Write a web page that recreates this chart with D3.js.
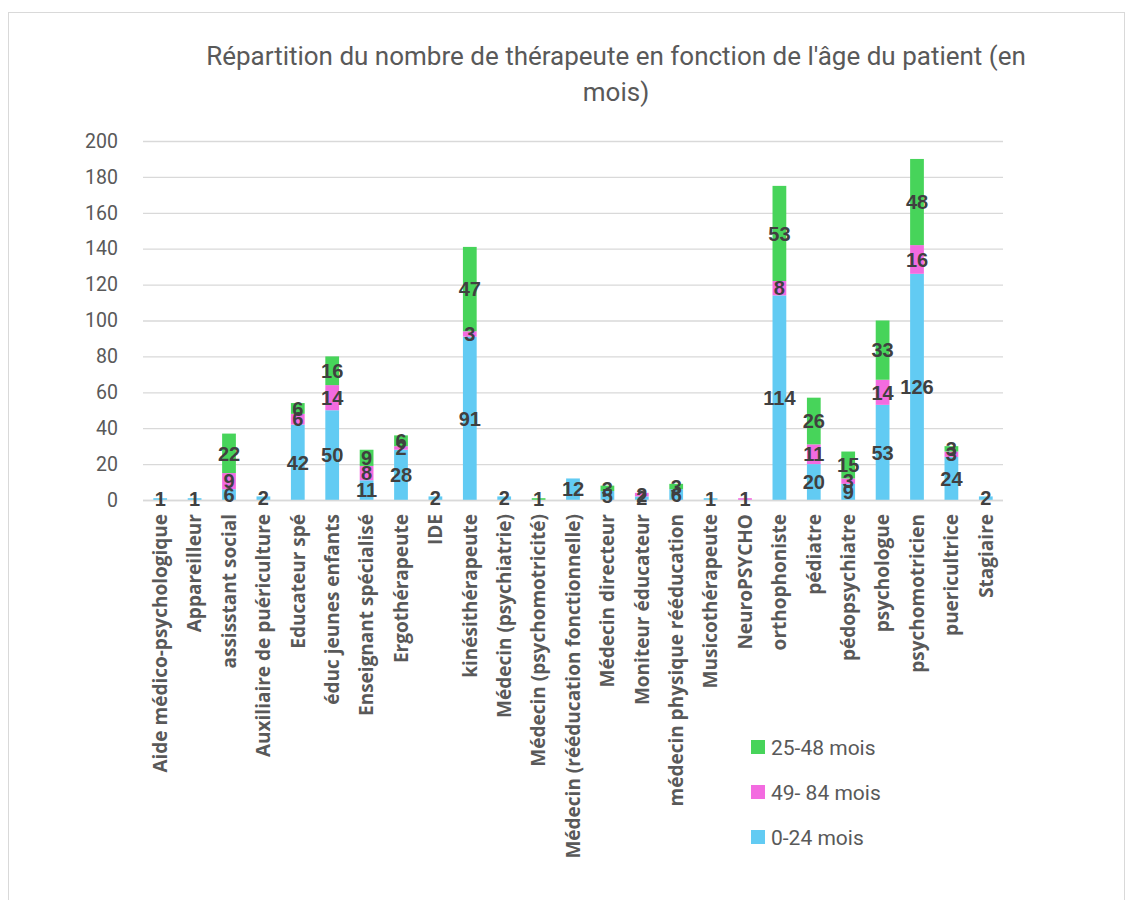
<!DOCTYPE html>
<html>
<head>
<meta charset="utf-8">
<script src="https://cdn.jsdelivr.net/npm/d3@7"></script>
<style>
  body { margin: 0; background: #fff; }
</style>
</head>
<body>
<div id="chart"></div>
<script>
var categories = ["Aide médico-psychologique", "Appareilleur", "assisstant social",
    "Auxiliaire de puériculture", "Educateur spé", "éduc jeunes enfants",
    "Enseignant spécialisé", "Ergothérapeute", "IDE", "kinésithérapeute",
    "Médecin (psychiatrie)", "Médecin (psychomotricité)", "Médecin (rééducation fonctionnelle)",
    "Médecin directeur", "Moniteur éducateur", "médecin physique rééducation",
    "Musicothérapeute", "NeuroPSYCHO", "orthophoniste", "pédiatre", "pédopsychiatre",
    "psychologue", "psychomotricien", "puericultrice", "Stagiaire"];

var seriesNames = ["0-24 mois", "49- 84 mois", "25-48 mois"];
var s0_24  = [1, 1, 6, 2, 42, 50, 11, 28, 2, 91, 2, 0, 12, 5, 2, 6, 1, 0, 114, 20, 9, 53, 126, 24, 2];
var s49_84 = [0, 0, 9, 0, 6, 14, 8, 2, 0, 3, 0, 0, 0, 0, 2, 0, 0, 1, 8, 11, 3, 14, 16, 3, 0];
var s25_48 = [0, 0, 22, 0, 6, 16, 9, 6, 0, 47, 0, 1, 0, 3, 0, 3, 0, 0, 53, 26, 15, 33, 48, 3, 0];
var yTicks = [0, 20, 40, 60, 80, 100, 120, 140, 160, 180, 200];

var colors = ["#62cbf3", "#f36be0", "#47d45a"];
var W = 1133, H = 900;
var margin = { top: 141, left: 143, right: 130, bottom: 400 },
    width = W - margin.left - margin.right,
    height = H - margin.top - margin.bottom;

var svg = d3.select("#chart").append("svg")
    .attr("width", W).attr("height", H)
    .style("font-family", "Roboto, sans-serif");

// chart frame
svg.append("rect")
    .attr("x", 8.5).attr("y", 12.5)
    .attr("width", 1116).attr("height", 900)
    .attr("fill", "none").attr("stroke", "#d9d9d9");

// title
var title = ["Répartition du nombre de thérapeute en fonction de l'âge du patient (en", "mois)"];
svg.append("g").selectAll("text")
    .data(title)
  .enter().append("text")
    .attr("x", 616)
    .attr("y", function(d, i) { return 65 + i * 36; })
    .attr("text-anchor", "middle")
    .attr("fill", "#595959").style("font-size", "26px")
    .text(function(d) { return d; });

var g = svg.append("g")
    .attr("transform", "translate(" + margin.left + "," + margin.top + ")");

var x = d3.scaleBand()
    .domain(categories)
    .range([0, width])
    .paddingInner(0.6).paddingOuter(0.3);

var y = d3.scaleLinear()
    .domain([0, 200])
    .range([height, 0]);

// gridlines + y labels
var yAxis = d3.axisLeft(y)
    .tickValues(yTicks)
    .tickSize(-width)
    .tickPadding(25);
g.append("g")
    .attr("class", "y axis")
    .call(yAxis)
    .call(function(s) {
        s.select(".domain").remove();
        s.selectAll(".tick line").attr("stroke", "#d9d9d9").attr("stroke-width", 1.3);
        s.selectAll(".tick text").attr("fill", "#595959")
            .style("font-size", "19.5px").style("font-family", "Roboto, sans-serif");
    });

// stacked data
var rows = categories.map(function(c, i) {
    return { cat: c, a: s0_24[i], b: s49_84[i], c: s25_48[i] };
});
var stack = d3.stack().keys(["a", "b", "c"]);
var layers = stack(rows);

var layer = g.selectAll("g.layer")
    .data(layers)
  .enter().append("g")
    .attr("class", "layer")
    .attr("fill", function(d, i) { return colors[i]; });

layer.selectAll("rect")
    .data(function(d) { return d; })
  .enter().append("rect")
    .attr("x", function(d) { return x(d.data.cat); })
    .attr("width", x.bandwidth())
    .attr("y", function(d) { return y(d[1]); })
    .attr("height", function(d) { return y(d[0]) - y(d[1]); });

// x baseline
g.append("line")
    .attr("x1", 0).attr("x2", width)
    .attr("y1", height + 0.5).attr("y2", height + 0.5)
    .attr("stroke", "#d9d9d9").attr("stroke-width", 1.3);

// data labels
layers.forEach(function(L) {
    g.append("g").selectAll("text")
        .data(L.filter(function(d) { return d[1] - d[0] > 0; }))
      .enter().append("text")
        .attr("x", function(d) { return x(d.data.cat) + x.bandwidth() / 2; })
        .attr("y", function(d) { return (y(d[0]) + y(d[1])) / 2; })
        .attr("dy", "0.36em")
        .attr("text-anchor", "middle")
        .attr("fill", "#404040")
        .style("font-weight", "bold")
        .style("font-size", "20px")
        .style("font-family", "'Liberation Sans', Arial, sans-serif")
        .text(function(d) { return d[1] - d[0]; });
});

// x labels, rotated
g.append("g").selectAll("text")
    .data(categories)
  .enter().append("text")
    .attr("transform", function(d) {
        return "translate(" + (x(d) + x.bandwidth() / 2) + "," + (height + 14) + ") rotate(-90)";
    })
    .attr("dy", "0.36em")
    .attr("text-anchor", "end")
    .attr("fill", "#595959")
    .style("font-weight", "bold")
    .style("font-size", "19px")
    .style("font-family", "'Open Sans', sans-serif")
    .text(function(d) { return d; });

// legend
var legendOrder = [2, 1, 0];
var legend = svg.append("g").selectAll("g")
    .data(legendOrder)
  .enter().append("g")
    .attr("transform", function(d, i) { return "translate(751," + (747 + i * 45) + ")"; });
legend.append("rect")
    .attr("x", 0).attr("y", -7)
    .attr("width", 14).attr("height", 14)
    .attr("fill", function(d) { return colors[d]; });
legend.append("text")
    .attr("x", 20).attr("dy", "0.36em")
    .attr("fill", "#595959").style("font-size", "21px")
    .text(function(d) { return seriesNames[d]; });
</script>
</body>
</html>
